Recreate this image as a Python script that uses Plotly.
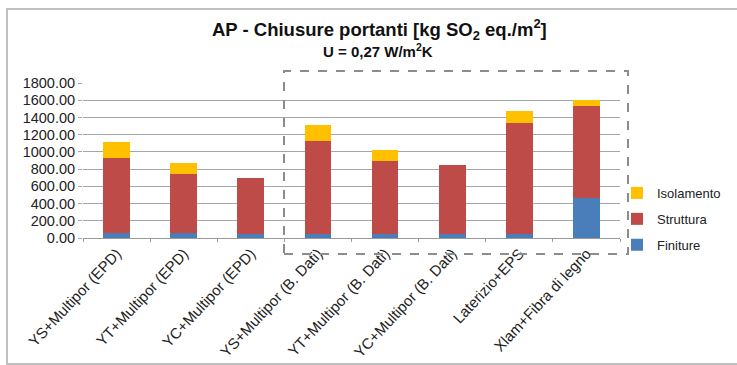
import plotly.graph_objects as go

categories = ["YS+Multipor (EPD)", "YT+Multipor (EPD)", "YC+Multipor (EPD)",
              "YS+Multipor (B. Dati)", "YT+Multipor (B. Dati)", "YC+Multipor (B. Dati)",
              "Laterizio+EPS", "Xlam+Fibra di legno"]
finiture = [55, 55, 50, 50, 50, 50, 45, 461]
struttura = [877, 688, 647, 1080, 848, 798, 1287, 1075]
isolamento = [186, 128, 0, 186, 127, 0, 146, 70]
y_ticks = [0, 200, 400, 600, 800, 1000, 1200, 1400, 1600, 1800]

FONT = "Liberation Sans, Arial, sans-serif"
fig = go.Figure()
for name, vals, col, rank in [("Finiture", finiture, "#4A7EBB", 3),
                              ("Struttura", struttura, "#BE4B48", 2),
                              ("Isolamento", isolamento, "#FFC000", 1)]:
    fig.add_trace(go.Bar(x=categories, y=vals, name=name, marker_color=col,
                         marker_line_width=0, legendgroup=name, legendrank=rank))

L, R, T, B = 83, 117, 83, 127
W = 737 - L - R
H = 365 - T - B

def px_x(p):
    return (p - L) / W

def px_y(p):
    return (365 - B - p) / H

fig.update_layout(
    width=737, height=365,
    margin=dict(l=L, r=R, t=T, b=B, autoexpand=False),
    barmode="stack", bargap=0.6,
    paper_bgcolor="white", plot_bgcolor="white",
    font=dict(family=FONT, size=13, color="#222222"),
    showlegend=True,
    legend=dict(xref="container", yref="container", x=617 / 737, y=(365 - 219) / 365,
                xanchor="left", yanchor="middle",
                traceorder="grouped", tracegroupgap=6, itemwidth=30,
                font=dict(size=13, color="#222222"), bgcolor="rgba(0,0,0,0)"),
    xaxis=dict(tickangle=-47, showgrid=False, showline=True, linecolor="#9a9a9a",
               ticks="outside", tickson="boundaries", ticklen=3, tickcolor="#9a9a9a",
               automargin=False,
               tickfont=dict(size=15, color="#222222")),
    yaxis=dict(range=[0, 1800], tickvals=y_ticks, tickformat=".2f",
               showgrid=True, gridcolor="#a6a6a6", gridwidth=1, automargin=False,
               showline=False, ticks="outside", ticklen=4, tickcolor="#a6a6a6",
               tickfont=dict(size=14.5, color="#222222"), zeroline=False),
    annotations=[
        dict(text="<b>AP - Chiusure portanti [kg SO<sub>2</sub> eq./m<sup>2</sup>]</b>",
             xref="paper", yref="paper", x=px_x(379), y=px_y(30),
             xanchor="center", yanchor="middle", showarrow=False,
             font=dict(size=18.5, color="#111111")),
        dict(text="<b>U = 0,27 W/m<sup>2</sup>K</b>",
             xref="paper", yref="paper", x=px_x(378), y=px_y(51),
             xanchor="center", yanchor="middle", showarrow=False,
             font=dict(size=15, color="#111111")),
    ],
    shapes=[
        dict(type="rect", xref="paper", yref="paper",
             x0=px_x(284), x1=px_x(628), y0=px_y(254), y1=px_y(71),
             line=dict(color="#8c8c8c", width=2, dash="dash"), layer="above"),
        dict(type="rect", xref="paper", yref="paper",
             x0=px_x(7), x1=px_x(745), y0=px_y(364), y1=px_y(9),
             line=dict(color="#c0c0c0", width=2), layer="below"),
    ],
)

fig.write_html("out.html")
